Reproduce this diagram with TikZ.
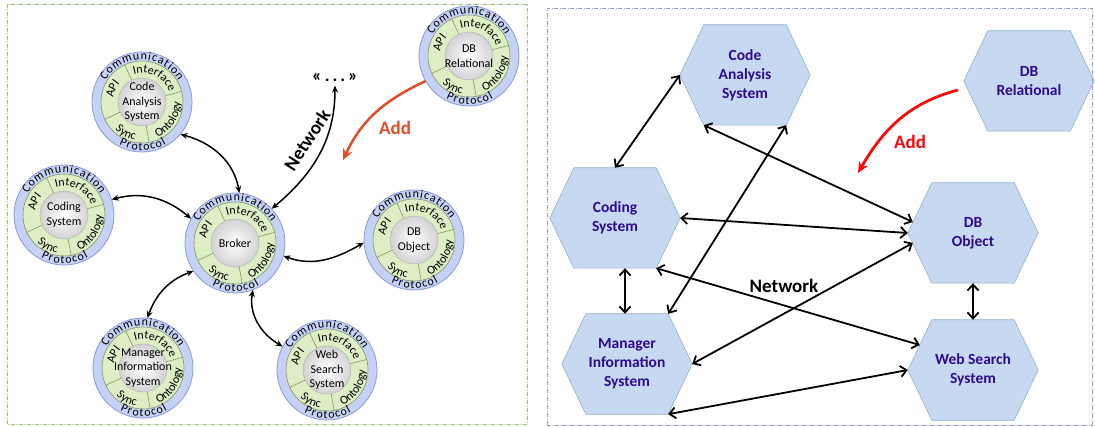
\documentclass[tikz,border=0pt]{standalone}
\usepackage{fontspec}
\setmainfont{Carlito}
\usetikzlibrary{arrows.meta, positioning, backgrounds, decorations.text, calc}
\usepackage{xcolor}
\definecolor{AgtFill} {RGB}{198,210,245}
\definecolor{AgtLine} {RGB}{135,153,222}
\definecolor{RingFill}{RGB}{222,238,196}
\definecolor{RingLine}{RGB}{128,150,100}
\definecolor{HexFill} {RGB}{199,217,241}
\definecolor{HexLine} {RGB}{140,175,215}
\definecolor{HexText} {RGB}{45,12,140}
\definecolor{PanLLine}{RGB}{150,200,110}
\definecolor{PanRLine}{RGB}{140,160,215}
\definecolor{AddOrange}{RGB}{228,76,40}
\definecolor{AddRed}  {RGB}{250,10,10}
\newcommand\agtfont{\fontsize{12}{14.5}\selectfont}
\newcommand\ringfont{\fontsize{12}{12}\selectfont}
\newcommand\hexfont{\fontsize{15.5}{19}\selectfont\bfseries}
\newcommand\bigbold{\fontsize{19}{21}\selectfont\bfseries}
% text bent along one arc of an agent ring
\newcommand\ringtext[5][center]{%
  \path[decorate, decoration={text along path, text align={#1},
    text={|\ringfont|#5}}] (#2:#4) arc[start angle=#2, end angle=#3, radius=#4];}
% blue protocol ring, green layer ring and white core behind an agent node
\newcommand\agentring[1]{%
  \begin{scope}[shift={(#1.center)}]
    \filldraw[draw=AgtLine, fill=AgtFill, line width=0.8pt] (0,0) circle (50pt);
    \filldraw[draw=RingLine, fill=RingFill, line width=0.6pt] (0,0) circle (41pt);
    \foreach \a in {15,115,205,280}
      \draw[RingLine, line width=0.6pt] (\a:24pt) -- (\a:41pt);
    \shade[inner color=white, outer color=gray!35] (0,0) circle (24pt);
    \draw[gray!60, line width=0.5pt] (0,0) circle (24pt);
    \ringtext[fit to path]{150}{30}{42pt}{Communication}
    \ringtext[fit to path]{242}{300}{48.5pt}{Protocol}
    \ringtext{112}{14}{29pt}{Interface}
    \ringtext{200}{112}{29pt}{API}
    \ringtext{-82}{16}{38.5pt}{Ontology}
    \ringtext{205}{280}{38.5pt}{Sync}
  \end{scope}}
\tikzset{
  % Agent node: only the label, the rings come from \agentring
  agent/.style={
    circle, minimum size=100pt, inner sep=0pt,
    align=center, font=\agtfont
  },
  % Hexagon node (outline drawn on the background layer)
  hexnode/.style={
    rectangle, minimum width=130pt, minimum height=100pt, inner sep=0pt,
    align=center, font=\hexfont, text=HexText
  },
  hexline/.style={draw=HexLine, fill=HexFill, line width=0.6pt},
  panL/.style={draw=PanLLine, line width=0.8pt, dash pattern=on 4pt off 1.5pt on 1pt off 1.5pt},
  panR/.style={draw=PanRLine, line width=0.8pt, dash pattern=on 4pt off 1.5pt on 1pt off 1.5pt},
  arrL/.style={<->, >={Stealth[length=7pt,width=6pt]}, line width=1.5pt},
  arrR/.style={<->, >={Straight Barb[length=6pt,width=11pt]}, line width=1.8pt},
  addL/.style={->, >={Stealth[length=11pt,width=10pt]}, line width=2.5pt, draw=AddOrange},
  addR/.style={->, >={Stealth[length=11pt,width=10pt]}, line width=2.8pt, draw=AddRed}
}

\begin{document}
\begin{tikzpicture}[x=1pt, y=1pt]
  \useasboundingbox (0,0) rectangle (1095,426);

  %% ── Broker architecture (left) ────────────────────────────────────────────
  \draw[panL] (7,2) rectangle (527,422);

  \node[agent] (broker)  at (235,183) {Broker};
  \node[agent] (code)    at (142,324) {Code\\Analysis\\System};
  \node[agent] (coding)  at (64,211)  {Coding\\System};
  \node[agent] (dbobj)   at (414,186) {DB\\Object};
  \node[agent] (dbrel)   at (469,370) {DB\\Relational};
  \node[agent] (manager) at (143,58)  {Manager\\Information\\System};
  \node[agent] (web)     at (327,56)  {Web\\Search\\System};
  \node[font=\fontsize{18}{20}\selectfont\bfseries] (dots) at (335,348) {«\,.\,.\,.\,»};

  \begin{scope}[on background layer]
    \foreach \n in {broker,code,coding,dbobj,dbrel,manager,web}
      {\agentring{\n}}
  \end{scope}

  \draw[arrL] (code.-40)   to[out=-15, in=100] (broker.85);
  \draw[arrL] (coding.18)  to[out=15,  in=140] (broker.151);
  \draw[arrL] (broker.-15) to[out=-20, in=210] (dbobj.183);
  \draw[arrL] (broker.214) to[out=200, in=70]  (manager.85);
  \draw[arrL] (broker.291) to[out=-100,in=150] (web.152);
  \draw[arrL] (broker.43)  to[out=40,  in=-90] (dots.south);
  \node[font=\bigbold, rotate=57] (netL) at (307,286) {Network};

  \coordinate (addLend) at (343,266);
  \draw[addL] (dbrel.210) to[out=205, in=65] (addLend);
  \node[font=\bigbold, text=AddOrange] (addLtxt) at (395,298) {Add};

  %% ── Peer-to-peer architecture (right) ─────────────────────────────────────
  \draw[panR] (547,1) rectangle (1092,418);

  \node[hexnode] (rcode)    at (745,351) {Code\\Analysis\\System};
  \node[hexnode] (rdbrel)   at (1029,345) {DB\\Relational};
  \node[hexnode] (rcoding)  at (615,208) {Coding\\System};
  \node[hexnode] (rdbobj)   at (973,193) {DB\\Object};
  \node[hexnode] (rmanager) at (627,62)  {Manager\\Information\\System};
  \node[hexnode] (rweb)     at (973,56)  {Web Search\\System};

  \begin{scope}[on background layer]
    \foreach \h in {rcode,rdbrel,rcoding,rdbobj,rmanager,rweb}
      \draw[hexline] (\h.west) -- ([xshift=24pt]\h.north west) -- ([xshift=-24pt]\h.north east)
        -- (\h.east) -- ([xshift=-24pt]\h.south east) -- ([xshift=24pt]\h.south west) -- cycle;
  \end{scope}

  \draw[arrR] (rcoding.north) -- (rcode.west);
  \draw[arrR] ([xshift=24pt]rcode.south west) -- ([xshift=5pt,yshift=11pt]rdbobj.west);
  \draw[arrR] ([xshift=-24pt]rcode.south east) -- ([xshift=-24pt]rmanager.north east);
  \draw[arrR] (rcoding.east) -- (rdbobj.west);
  \draw[arrR] ([xshift=-24pt]rcoding.south east) -- ([xshift=12pt,yshift=25pt]rweb.west);
  \draw[arrR] ([xshift=10pt]rcoding.south) -- ([xshift=-2pt]rmanager.north);
  \draw[arrR] (rmanager.east) -- ([xshift=5pt,yshift=-10pt]rdbobj.west);
  \draw[arrR] ([xshift=-24pt]rmanager.south east) -- (rweb.west);
  \draw[arrR] (rdbobj.south) -- (rweb.north);
  \node[font=\bigbold] (netR) at (784,140) {Network};

  \coordinate (addRend) at (858,253);
  \draw[addR] ([xshift=-6pt,yshift=-9pt]rdbrel.west) to[out=195, in=60] (addRend);
  \node[font=\bigbold, text=AddRed] (addRtxt) at (910,284) {Add};

\end{tikzpicture}
\end{document}
